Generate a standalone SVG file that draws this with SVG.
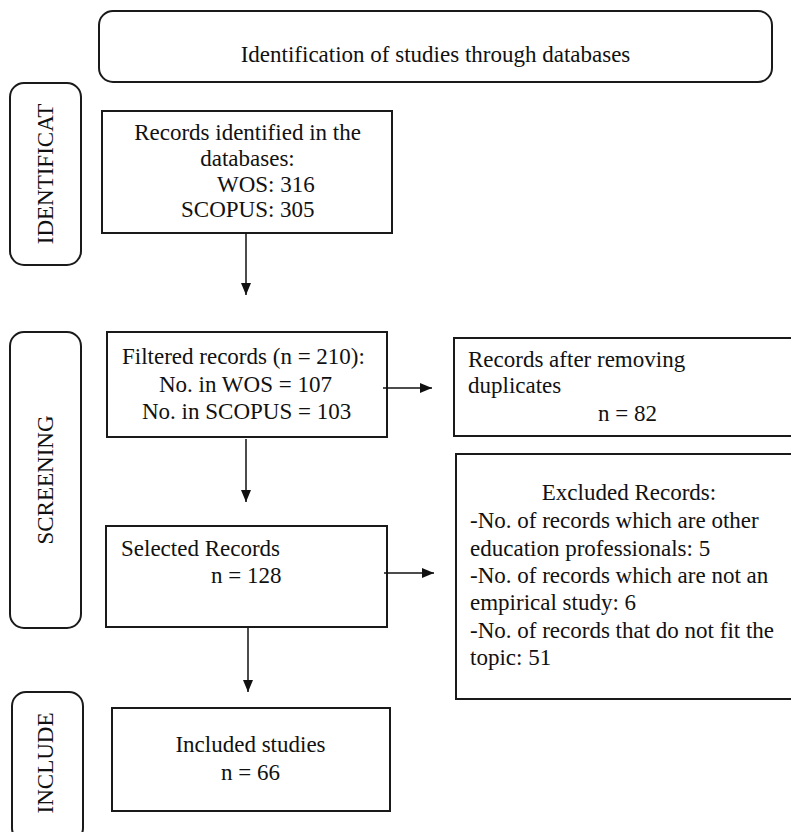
<svg xmlns="http://www.w3.org/2000/svg" width="791" height="832" viewBox="0 0 791 832">
<defs>
<style>
.box{fill:#fff;stroke:#1a1a1a;stroke-width:2}
.t{font-family:"Liberation Serif","Times New Roman",serif;font-size:23px;fill:#111}
.m{text-anchor:middle}
.c{stroke:#111;stroke-width:1.5;fill:none}
</style>
<marker id="ah" markerUnits="userSpaceOnUse" markerWidth="12" markerHeight="10" refX="12" refY="5" orient="auto">
<path d="M0,0 L12,5 L0,10 z" fill="#111"/>
</marker>
</defs>
<rect width="791" height="832" fill="#fff"/>
<g id="header">
<rect class="box" x="99" y="11" width="673" height="71" rx="14"/>
<text class="t m" x="435.5" y="62">Identification of studies through databases</text>
</g>
<g id="phase-identification">
<rect class="box" x="10" y="83" width="71" height="182" rx="14"/>
<text class="t m" transform="translate(53,174) rotate(-90)">IDENTIFICAT</text>
</g>
<g id="phase-screening">
<rect class="box" x="10" y="332" width="71" height="296" rx="14"/>
<text class="t m" transform="translate(53,480) rotate(-90)">SCREENING</text>
</g>
<g id="phase-include">
<rect class="box" x="12" y="692" width="71" height="150" rx="14"/>
<text class="t m" transform="translate(53,763) rotate(-90)">INCLUDE</text>
</g>
<g id="records-identified">
<rect class="box" x="102" y="111" width="290" height="122"/>
<text class="t m" x="247.5" y="140">Records identified in the</text>
<text class="t m" x="247.5" y="166">databases:</text>
<text class="t" x="217" y="192">WOS: 316</text>
<text class="t" x="181" y="217">SCOPUS: 305</text>
</g>
<g id="filtered-records">
<rect class="box" x="107" y="332" width="280" height="105"/>
<text class="t" x="122" y="364">Filtered records (n = 210):</text>
<text class="t" x="159" y="392">No. in WOS = 107</text>
<text class="t" x="142" y="419">No. in SCOPUS = 103</text>
</g>
<g id="after-duplicates">
<rect class="box" x="454" y="338" width="345" height="98"/>
<text class="t" x="468" y="367">Records after removing</text>
<text class="t" x="468" y="393">duplicates</text>
<text class="t" x="598" y="421">n = 82</text>
</g>
<g id="selected-records">
<rect class="box" x="106" y="526" width="281" height="101"/>
<text class="t" x="121" y="556">Selected Records</text>
<text class="t" x="211" y="583">n = 128</text>
</g>
<g id="excluded-records">
<rect class="box" x="456" y="454" width="345" height="245"/>
<text class="t m" x="629" y="500">Excluded Records:</text>
<text class="t" x="470" y="528">-No. of records which are other</text>
<text class="t" x="470" y="556">education professionals: 5</text>
<text class="t" x="470" y="583">-No. of records which are not an</text>
<text class="t" x="470" y="610">empirical study: 6</text>
<text class="t" x="470" y="638">-No. of records that do not fit the</text>
<text class="t" x="470" y="665">topic: 51</text>
</g>
<g id="included-studies">
<rect class="box" x="112" y="708" width="278" height="103"/>
<text class="t m" x="250.5" y="752">Included studies</text>
<text class="t m" x="250.5" y="780">n = 66</text>
</g>
<g id="connectors">
<line class="c" x1="246" y1="233" x2="246" y2="295" marker-end="url(#ah)"/>
<line class="c" x1="383" y1="388" x2="432" y2="388" marker-end="url(#ah)"/>
<line class="c" x1="246" y1="439" x2="246" y2="502" marker-end="url(#ah)"/>
<line class="c" x1="384" y1="573" x2="434" y2="573" marker-end="url(#ah)"/>
<line class="c" x1="248" y1="628" x2="248" y2="692" marker-end="url(#ah)"/>
</g>
</svg>
